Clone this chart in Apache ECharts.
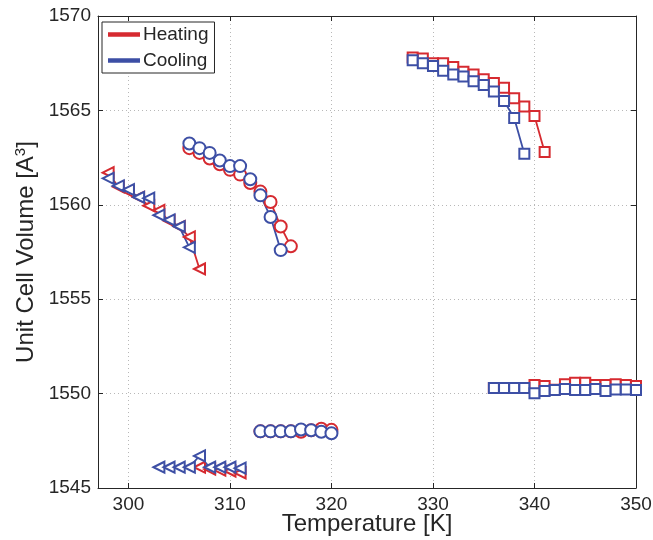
<!DOCTYPE html>
<html>
<head>
<meta charset="utf-8">
<script src="https://cdn.jsdelivr.net/npm/echarts@6/dist/echarts.min.js"></script>
<style>
  html, body { margin: 0; padding: 0; background: #fff; }
  #chart { width: 653px; height: 540px; }
</style>
</head>
<body>
<div id="chart"></div>
<script>
// temperatures (K) and unit cell volumes (A^3)
var heatTriT = [298, 299, 300, 301, 302, 303, 304, 305, 306, 307];
var heatTriV = [1561.7, 1560.95, 1560.7, 1560.4, 1559.95, 1559.7, 1559.15, 1558.85, 1558.3, 1556.6];
var coolTriT = [298, 299, 300, 301, 302, 303, 304, 305, 306];
var coolTriV = [1561.4, 1561.0, 1560.8, 1560.4, 1560.35, 1559.45, 1559.2, 1558.85, 1557.75];

var heatCirT = [306, 307, 308, 309, 310, 311, 312, 313, 314, 315, 316];
var heatCirV = [1563.0, 1562.75, 1562.45, 1562.15, 1561.85, 1561.6, 1561.15, 1560.7, 1560.15, 1558.85, 1557.8];
var coolCirT = [306, 307, 308, 309, 310, 311, 312, 313, 314, 315];
var coolCirV = [1563.25, 1563.0, 1562.75, 1562.35, 1562.05, 1562.05, 1561.35, 1560.5, 1559.35, 1557.6];

var heatSqT = [328, 329, 330, 331, 332, 333, 334, 335, 336, 337, 338, 339, 340, 341];
var heatSqV = [1567.8, 1567.75, 1567.5, 1567.5, 1567.3, 1567.05, 1566.9, 1566.65, 1566.45, 1566.2, 1565.65, 1565.2, 1564.7, 1562.8];
var coolSqT = [328, 329, 330, 331, 332, 333, 334, 335, 336, 337, 338, 339];
var coolSqV = [1567.65, 1567.5, 1567.35, 1567.1, 1566.9, 1566.8, 1566.55, 1566.35, 1566.0, 1565.5, 1564.6, 1562.7];

var heatLowTriT = [307, 308, 309, 310, 311];
var heatLowTriV = [1546.1, 1546.0, 1545.95, 1545.9, 1545.8];
var coolLowTriT = [303, 304, 305, 306, 307, 308, 309, 310, 311];
var coolLowTriV = [1546.1, 1546.1, 1546.1, 1546.1, 1546.7, 1546.1, 1546.1, 1546.1, 1546.05];

var heatLowCirT = [313, 314, 315, 316, 317, 318, 319, 320];
var heatLowCirV = [1548.0, 1548.0, 1548.0, 1548.0, 1547.98, 1548.06, 1548.14, 1548.08];
var coolLowCirT = [313, 314, 315, 316, 317, 318, 319, 320];
var coolLowCirV = [1548.0, 1548.0, 1548.0, 1548.0, 1548.1, 1548.06, 1547.98, 1547.9];

var heatLowSqT = [336, 337, 338, 339, 340, 341, 342, 343, 344, 345, 346, 347, 348, 349, 350];
var heatLowSqV = [1550.3, 1550.3, 1550.3, 1550.3, 1550.45, 1550.4, 1550.2, 1550.5, 1550.58, 1550.58, 1550.45, 1550.45, 1550.5, 1550.45, 1550.4];
var coolLowSqT = [336, 337, 338, 339, 340, 341, 342, 343, 344, 345, 346, 347, 348, 349, 350];
var coolLowSqV = [1550.3, 1550.3, 1550.3, 1550.3, 1550.02, 1550.14, 1550.19, 1550.24, 1550.19, 1550.19, 1550.24, 1550.14, 1550.22, 1550.22, 1550.19];

var xTicks = [300, 310, 320, 330, 340, 350];
var seriesNames = ['Heating', 'Cooling'];

var RED = '#d62a30';
var BLUE = '#3d4fa5';
var FONT = 'Liberation Sans';
var TEXT = '#262626';

function pairs(t, v) {
  return t.map(function (x, i) { return [x, v[i]]; });
}

function mk(name, color, t, v, symbol, size, rot) {
  return {
    name: name,
    type: 'line',
    data: pairs(t, v),
    symbol: symbol,
    symbolSize: size,
    symbolRotate: rot || 0,
    showAllSymbol: true,
    lineStyle: { color: color, width: 1.8 },
    itemStyle: { color: color, borderColor: color, borderWidth: 2 },
    animation: false
  };
}

var series = [
  mk(seriesNames[0], RED, heatTriT, heatTriV, 'emptyTriangle', 11, 90),
  mk(seriesNames[0], RED, heatCirT, heatCirV, 'emptyCircle', 12),
  mk(seriesNames[0], RED, heatSqT, heatSqV, 'emptyRect', 10),
  mk(seriesNames[0], RED, heatLowTriT, heatLowTriV, 'emptyTriangle', 11, 90),
  mk(seriesNames[0], RED, heatLowCirT, heatLowCirV, 'emptyCircle', 12),
  mk(seriesNames[0], RED, heatLowSqT, heatLowSqV, 'emptyRect', 10),
  mk(seriesNames[1], BLUE, coolTriT, coolTriV, 'emptyTriangle', 11, 90),
  mk(seriesNames[1], BLUE, coolCirT, coolCirV, 'emptyCircle', 12),
  mk(seriesNames[1], BLUE, coolSqT, coolSqV, 'emptyRect', 10),
  mk(seriesNames[1], BLUE, coolLowTriT, coolLowTriV, 'emptyTriangle', 11, 90),
  mk(seriesNames[1], BLUE, coolLowCirT, coolLowCirV, 'emptyCircle', 12),
  mk(seriesNames[1], BLUE, coolLowSqT, coolLowSqV, 'emptyRect', 10)
];

var axisLineStyle = { color: TEXT, width: 1 };
var gridLine = { show: true, lineStyle: { color: '#b8b8b8', type: [1, 3], width: 1 } };
var plain = function (v) { return String(v); };

var option = {
  backgroundColor: '#fff',
  animation: false,
  textStyle: { fontFamily: FONT },
  grid: { left: 98, right: 17, top: 16, bottom: 52, containLabel: false, outerBoundsMode: 'none' },
  legend: {
    data: [
      { name: seriesNames[0], icon: 'rect', itemStyle: { color: RED } },
      { name: seriesNames[1], icon: 'rect', itemStyle: { color: BLUE } }
    ],
    orient: 'vertical',
    left: 102,
    top: 22,
    itemWidth: 30,
    itemHeight: 2.5,
    itemGap: 7,
    padding: [3, 6, 3, 6],
    borderColor: TEXT,
    borderWidth: 1,
    backgroundColor: '#fff',
    textStyle: { fontFamily: FONT, fontSize: 19, color: TEXT, padding: [0, 0, 0, -1] }
  },
  xAxis: [
    {
      type: 'value',
      min: 297,
      max: 350,
      name: 'Temperature [K]',
      nameLocation: 'middle',
      nameGap: 24,
      nameMoveOverlap: false,
      nameTextStyle: { fontFamily: FONT, fontSize: 24, color: TEXT },
      axisLine: { show: true, onZero: false, lineStyle: axisLineStyle },
      axisTick: { show: true, inside: true, length: 5, lineStyle: axisLineStyle, customValues: xTicks },
      axisLabel: { fontFamily: FONT, fontSize: 19, color: TEXT, margin: 7, customValues: xTicks, formatter: plain },
      splitLine: gridLine
    },
    {
      type: 'value',
      position: 'top',
      min: 297,
      max: 350,
      axisLine: { show: true, onZero: false, lineStyle: axisLineStyle },
      axisTick: { show: true, inside: true, length: 5, lineStyle: axisLineStyle, customValues: xTicks },
      axisLabel: { show: false, customValues: xTicks },
      splitLine: { show: false }
    }
  ],
  yAxis: [
    {
      type: 'value',
      min: 1545,
      max: 1570,
      interval: 5,
      name: '{a|Unit Cell Volume [A}{s|3}{a|]}',
      nameLocation: 'middle',
      nameGap: 58,
      nameMoveOverlap: false,
      nameTextStyle: {
        rich: {
          a: { fontFamily: FONT, fontSize: 24, color: TEXT },
          s: { fontFamily: FONT, fontSize: 15, color: TEXT, verticalAlign: 'top', padding: [0, 0, 12, 0] }
        }
      },
      axisLine: { show: true, onZero: false, lineStyle: axisLineStyle },
      axisTick: { show: true, inside: true, length: 5, lineStyle: axisLineStyle },
      axisLabel: { fontFamily: FONT, fontSize: 19, color: TEXT, margin: 7, formatter: plain },
      splitLine: gridLine
    },
    {
      type: 'value',
      position: 'right',
      min: 1545,
      max: 1570,
      interval: 5,
      axisLine: { show: true, onZero: false, lineStyle: axisLineStyle },
      axisTick: { show: true, inside: true, length: 5, lineStyle: axisLineStyle },
      axisLabel: { show: false },
      splitLine: { show: false }
    }
  ],
  series: series
};

var chart = echarts.init(document.getElementById('chart'), null, { renderer: 'canvas' });
chart.setOption(option);
</script>
</body>
</html>
